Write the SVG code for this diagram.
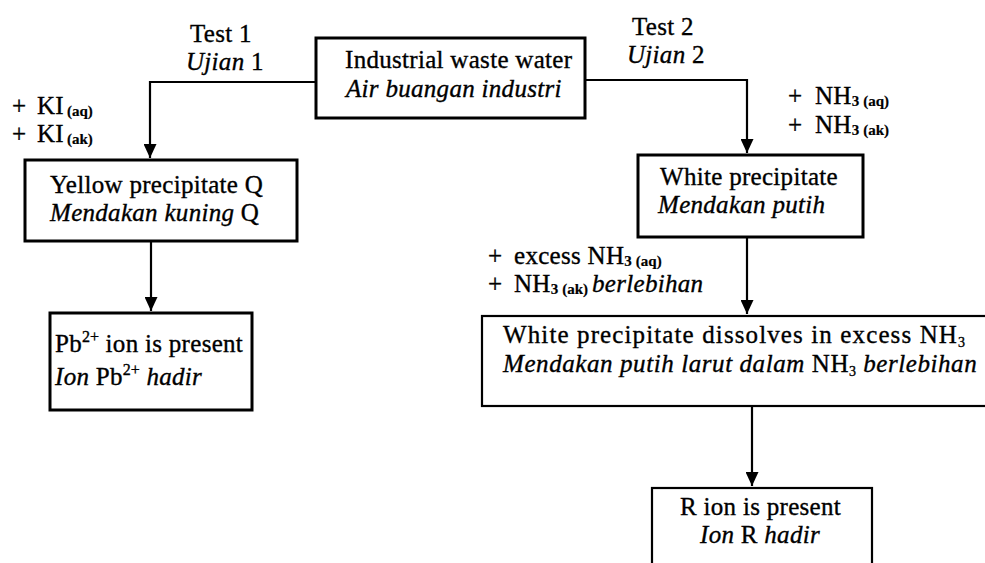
<svg xmlns="http://www.w3.org/2000/svg" width="985" height="563" viewBox="0 0 985 563">
<style>
text{font-family:"Liberation Serif","Times New Roman",serif;font-size:25px;letter-spacing:0.3px;fill:#000;stroke:#000;stroke-width:0.35}
.i{font-style:italic}
.s{font-size:15px;font-weight:bold;stroke-width:0.2;letter-spacing:0}
.sup{font-size:16px;letter-spacing:0}
.sub{font-size:14px;letter-spacing:0}
.box{fill:#fff;stroke:#000;stroke-width:3}
.thin{stroke-width:2.2}
.con{fill:none;stroke:#000;stroke-width:2.2}
</style>
<defs>
<marker id="arr" markerUnits="userSpaceOnUse" markerWidth="15" markerHeight="13" refX="14" refY="6.5" orient="auto">
<path d="M0,0 L14,6.5 L0,13 Z" fill="#000"/>
</marker>
</defs>
<rect width="985" height="563" fill="#fff"/>

<g id="connectors">
<path class="con" d="M316,82 H150 V158" marker-end="url(#arr)"/>
<path class="con" d="M151,241 V311" marker-end="url(#arr)"/>
<path class="con" d="M585,80 H747 V153" marker-end="url(#arr)"/>
<path class="con" d="M747,237 V314" marker-end="url(#arr)"/>
<path class="con" d="M752,406 V486" stroke-width="1.8" marker-end="url(#arr)"/>
</g>

<g id="labels">
<text x="190" y="42">Test 1</text>
<text x="186" y="70"><tspan class="i">Ujian</tspan> 1</text>
<text x="632" y="35">Test 2</text>
<text x="627" y="63"><tspan class="i">Ujian</tspan> 2</text>
<text x="12" y="114">+<tspan x="37">KI</tspan><tspan class="s" dx="3" dy="2">(aq)</tspan></text>
<text x="12" y="142">+<tspan x="37">KI</tspan><tspan class="s" dx="3" dy="2">(ak)</tspan></text>
<text x="788" y="104">+<tspan x="815">NH</tspan><tspan class="s" dy="2">3</tspan><tspan class="s" dx="4">(aq)</tspan></text>
<text x="788" y="133">+<tspan x="815">NH</tspan><tspan class="s" dy="2">3</tspan><tspan class="s" dx="4">(ak)</tspan></text>
<text x="488" y="264">+<tspan x="514">excess NH</tspan><tspan class="s" dy="2">3</tspan><tspan class="s" dx="4">(aq)</tspan></text>
<text x="488" y="292">+<tspan x="514">NH</tspan><tspan class="s" dy="2">3</tspan><tspan class="s" dx="4">(ak)</tspan><tspan class="i" dx="4" dy="-2">berlebihan</tspan></text>
</g>

<g id="n-waste">
<rect class="box" x="316" y="38" width="269" height="80"/>
<text x="345" y="68">Industrial waste water</text>
<text x="346" y="97" class="i">Air buangan industri</text>
</g>

<g id="n-yellow">
<rect class="box" x="25" y="160" width="272" height="81"/>
<text x="50" y="193">Yellow precipitate Q</text>
<text x="50" y="221"><tspan class="i">Mendakan kuning</tspan> Q</text>
</g>

<g id="n-pb">
<rect class="box" x="50" y="313" width="202" height="97"/>
<text x="55" y="352">Pb<tspan class="sup" dy="-10">2+</tspan><tspan dy="10"> ion is present</tspan></text>
<text x="55" y="385"><tspan class="i">Ion</tspan> Pb<tspan class="sup" dy="-10">2+</tspan><tspan class="i" dy="10"> hadir</tspan></text>
</g>

<g id="n-white">
<rect class="box" x="638" y="155" width="225" height="82"/>
<text x="660" y="185">White precipitate</text>
<text x="658" y="213" class="i">Mendakan putih</text>
</g>

<g id="n-dissolve">
<rect class="box thin" x="482" y="316" width="520" height="90"/>
<text x="503" y="343" textLength="462">White precipitate dissolves in excess NH<tspan class="sub" dy="4">3</tspan></text>
<text x="503" y="372" textLength="474"><tspan class="i">Mendakan putih larut dalam</tspan> NH<tspan class="sub" dy="4">3</tspan><tspan class="i" dy="-4"> berlebihan</tspan></text>
</g>

<g id="n-r">
<rect class="box thin" x="652" y="488" width="220" height="100"/>
<text x="680" y="515">R ion is present</text>
<text x="700" y="543"><tspan class="i">Ion</tspan> R <tspan class="i">hadir</tspan></text>
</g>
</svg>
